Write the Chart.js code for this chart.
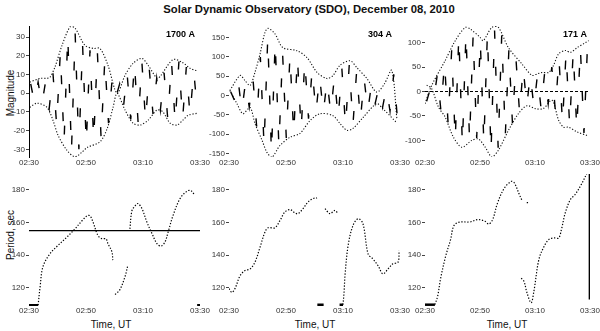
<!DOCTYPE html>
<html>
<head>
<meta charset="utf-8">
<script src="https://cdn.jsdelivr.net/npm/chart.js@4.4.0/dist/chart.umd.min.js"></script>
<style>
  body { margin: 0; background: #fff; width: 600px; height: 331px; position: relative; overflow: hidden;
         font-family: 'Liberation Sans', Arial, sans-serif; }
  canvas { position: absolute; }
  .txt { position: absolute; white-space: nowrap; color: #111; }
  .rot { transform: translate(-50%, -50%) rotate(-90deg); }
  .ctr { transform: translate(-50%, -50%); }
</style>
</head>
<body>
<div class="txt ctr" style="left:309px;top:9px;font-weight:bold;font-size:11.3px">Solar Dynamic Observatory (SDO), December 08, 2010</div>
<div class="txt rot" style="left:10px;top:93px;font-size:10px">Magnitude</div>
<div class="txt rot" style="left:10px;top:235px;font-size:10px">Period, sec</div>
<div class="txt ctr" style="left:111px;top:324px;font-size:10px">Time, UT</div>
<div class="txt ctr" style="left:315px;top:324px;font-size:10px">Time, UT</div>
<div class="txt ctr" style="left:507px;top:324px;font-size:10px">Time, UT</div>

<canvas id="m1"></canvas><canvas id="m2"></canvas><canvas id="m3"></canvas>
<canvas id="p1"></canvas><canvas id="p2"></canvas><canvas id="p3"></canvas>

<script>
// --- time axis (minutes after 02:30 UT) ------------------------
const timeTicks = [0, 20, 40, 60];
const timeLabels = ['02:30', '02:50', '03:10', '03:30'];

// --- top row: oscillation magnitude ----------------------------
const magTicks1 = [-30, -20, -10, 0, 10, 20, 30];
const magTicks2 = [-150, -100, -50, 0, 50, 100, 150];
const magTicks3 = [-100, -50, 0, 50, 100];

// signal extrema (shared times)
const sigT = [0.6,1.9,3.2,4.5,5.8,7.1,8.4,9.7,11,12.3,13.6,14.9,16.2,17.5,18.8,20.1,21.4,22.7,24,25.3,26.6,27.9,29.2,30.5,31.8,33.1,34.4,35.7,37,38.3,39.6,40.9,42.2,43.5,44.8,46.1,47.4,48.7,50,51.3,52.6,53.9,55.2,56.5,57.8,59.1];
const sig1 = [5,-5,6,-6,6,-8,11,-17,22,-26,31,-31,32,-30,26,-27,23,-25,22,-24,18,-16,8,-2,5,-8,11,-14,16,-16,17,-15,13,-11,8,-9,11,-14,17,-16,17,-14,14,-12,12,-10];
const sig2 = [10,-12,40,-40,35,-30,45,-80,100,-130,150,-150,140,-130,110,-110,105,-100,100,-90,90,-60,70,-45,50,-45,40,-45,50,-60,70,-80,80,-75,65,-65,45,-40,30,-20,22,-30,20,-40,55,-60];
const sig3 = [-20,5,-15,35,-40,60,-65,85,-100,115,-110,120,-100,115,-95,105,-105,120,-125,125,-115,115,-90,85,-65,65,-45,50,-30,35,-32,35,-35,38,-25,50,-40,70,-65,80,-70,82,-78,90,-85,95];

// envelopes
const env1UT = [0.3,4,6.3,7.4,9.1,11.6,14.4,16.1,19.6,22.5,24.9,27.7,30.9,33.7,36.5,39.6,41.8,44.9,46,50.5,53.7,56.5,59];
const env1U  = [6,8,8,8.6,14,25.7,35.5,35,25.7,24,24,15,0,9.6,16,18.7,15,8,9,18,16.6,13.4,12];
const env1LT = [0.3,2.8,6.3,8.4,10.2,13.3,16.1,18.6,20.4,24.9,27.4,29.5,30.9,33.7,36.5,39,41.8,44.9,47,49.5,51.9,54,55.8,59];
const env1L  = [-7.5,-5.3,-7.5,-14.4,-22.5,-30.5,-34,-31.5,-29,-26,-19,-7.5,0,-9,-16,-17,-14.4,-9,-10,-16,-17,-14.4,-11.8,-10.7];

const env2UT = [0.3,3.9,5.6,7.4,9.1,10.9,12.6,13.7,16.1,18.9,23.9,27.4,30.9,34.4,36.5,38.9,42.5,44.9,48.4,51.8,54.5,57.1,58.9];
const env2U  = [13,52,39,26,60,108,163,174,160,124,116,98,60,44,52,78,90,72,44,9,30,65,-60];
const env2LT = [0.3,2.8,4.9,7.4,9.1,11.6,13.3,15,17.9,21.4,24.9,28.4,31.9,36.5,38.9,41.4,43.5,47,51.8,54,58.8];
const env2L  = [13,-21,-47,-31,-72,-116,-147,-160,-129,-108,-98,-65,-47,-52,-72,-90,-85,-57,-21,-34,-70];

const env3UT = [0,2.4,7.3,11,14.6,16.4,20,21.2,24.3,26.7,30.3,35.3,38.9,40.8,42.6,45,46.7,48.6,51.1,52.9,55.4,58.4,59.5];
const env3U  = [-25,12,63,104,131,128,111,104,131,131,90,56,33,36,39,39,53,77,84,80,90,100,104];
const env3LT = [0.6,2.4,4.9,7.3,10.3,13.4,17,19.4,21.9,24.3,26.7,30.3,34,37.1,40.1,43,46.2,48.6,50.4,52.2,55.4,59];
const env3L  = [13,6,-32,-52,-93,-114,-100,-97,-114,-134,-120,-80,-45,-29,-35,-35,-18,-59,-73,-73,-83,-90];

// --- bottom row: period, sec -----------------------------------
const perTicks = [120, 140, 160, 180];
const refPeriod = 155;

const per1T = [3.2,3.9,4.9,7.4,10.2,13.3,16.1,18.6,20.4,21.4,22.5,24.2,25.6,27,27.7,29.1,29.4,29.8,30.2,31.9,33.7,34.7,35,35.4,36.1,37.2,38.2,39.6,41.4,43.2,44.9,46.3,47.7,48.8,50.5,53,55.4,56.8,58.2];
const per1  = [109.5,120.8,133,141,146,151,156,161,164,164,160,152,150,150,147,142,137,null,116,119,127,134,null,156,167,170,171.5,168.5,160,153,147,145.5,148,154,164,174.5,179,179.4,176.4];
const floor1T = [0,3.2,3.3,59,60];
const floor1  = [109.5,109.5,null,109.5,109.5];

const per2T = [0,1,2.1,3.9,5.6,7.4,9.1,10.9,12.6,13.7,16.1,17.9,19.6,21.4,23.2,24.2,26,27.7,29.5,30.9,32,33.7,35.4,37.2,38.2,39,40,40.4,40.7,41.8,43.5,45.3,47,48.8,50.5,52.3,54,55.8,57.5,59.3,59.7];
const per2  = [119.6,117.3,119.6,127.5,130.6,131.6,135.7,144.9,154,156.7,156.7,161.2,166.3,167.8,165.7,165.3,168.4,172.4,174.5,174.9,null,168.4,165.3,167.3,165.3,null,109.8,118,127.5,145.9,158.1,162.2,159.2,140.8,137.7,133.6,128.6,131.6,134.7,135.7,142.8];
const floor2T = [31,33.2,33.3,38.8,40];
const floor2  = [109.8,109.8,null,109.8,109.8];

const per3T  = [3.6,4.6,5.7,7.5,9.3,10.4,12.1,16.4,19.3,21.8,23.2,24.6,26.4,28.9,31.4,32.5,34.3,35.4,36.2,37,38];
const per3   = [109.8,115,126,139.3,149.5,157.6,160,160.3,161.7,160.7,159,161.7,171.9,181,185,184,177,172.9,null,172,172];
const per3bT = [35,36,37.1,38.6,39.6,41.4,43.2,45,46.8,48.6,49.6,51,52.9,54.6,56.8,58.9];
const per3b  = [126,124,117,111,118,137.3,145,149.5,150.5,150.5,155.6,165.8,174,177,183,190];
const floor3T = [0,3.6];
const floor3  = [109.8,109.8];
const edge3T = [59.8,59.8];
const edge3  = [189.5,113];

// --- helpers ---------------------------------------------------
const pair = (ts, vs) => ts.map((t, i) => ({ x: t, y: vs[i] }));
const FONT = "'Liberation Sans', Arial, sans-serif";
const W = 30, PT = 6, PR = 16, H = 14;

const cornerLabel = {
  id: 'cornerLabel',
  afterDraw(chart, args, opts) {
    if (!opts.text) return;
    const { ctx, chartArea } = chart;
    ctx.save();
    ctx.font = 'bold 9px ' + FONT;
    ctx.fillStyle = '#000';
    ctx.textAlign = 'right';
    ctx.textBaseline = 'middle';
    ctx.fillText(opts.text, chartArea.right - opts.dx, chartArea.top + 9);
    ctx.restore();
  }
};

const envStyle = { borderColor: '#111', borderWidth: 1.1, borderDash: [1.2, 1.8], tension: 0.3 };
const sigStyle = { borderColor: '#000', borderWidth: 1.4, borderDash: [9, 28], tension: 0 };
const perStyle = { borderColor: '#000', borderWidth: 1.2, borderDash: [1.3, 1.7], tension: 0.35 };
const solid = { borderColor: '#000', borderWidth: 1.3, tension: 0 };

function panel(id, box, yMin, yMax, yTicks, datasets, opts = {}) {
  const cv = document.getElementById(id);
  const w = W + (box.r - box.l) + PR, h = PT + (box.b - box.t) + H;
  cv.width = w; cv.height = h;
  cv.style.left = (box.l - W) + 'px';
  cv.style.top = (box.t - PT) + 'px';
  new Chart(cv, {
    type: 'line',
    data: { datasets: datasets.map(d => Object.assign({ pointRadius: 0, fill: false, spanGaps: false }, d)) },
    plugins: [cornerLabel],
    options: {
      responsive: false,
      animation: false,
      layout: { padding: { top: PT, right: PR, left: 0, bottom: 0 } },
      plugins: { legend: { display: false }, tooltip: { enabled: false },
                 cornerLabel: { text: opts.label || '', dx: opts.dx || 5 } },
      scales: {
        x: {
          type: 'linear', min: 0, max: 60,
          afterBuildTicks: s => { s.ticks = timeTicks.map(v => ({ value: v })); },
          afterFit: s => { s.height = H; },
          ticks: { font: { size: 8, family: FONT }, color: '#333', padding: opts.xPad ?? 1, maxRotation: 0,
                   callback: v => timeLabels[timeTicks.indexOf(v)] },
          grid: { drawOnChartArea: false, drawTicks: false },
          border: { display: false }
        },
        y: {
          min: yMin, max: yMax,
          afterBuildTicks: s => { s.ticks = yTicks.map(v => ({ value: v })); },
          afterFit: s => { s.width = W; },
          ticks: { font: { size: 8, family: FONT }, color: '#333', padding: 1 },
          grid: { drawOnChartArea: false, drawTicks: true, tickLength: 3, color: '#444' },
          border: { display: !!opts.axisLine, color: '#000', width: 1 }
        }
      }
    }
  });
}

// --- top row ---------------------------------------------------
panel('m1', { l: 29, r: 200, t: 26, b: 157 }, -34.1, 36, magTicks1, [
  Object.assign({ data: pair(sigT, sig1) }, sigStyle),
  Object.assign({ data: pair(env1UT, env1U) }, envStyle),
  Object.assign({ data: pair(env1LT, env1L) }, envStyle)
], { label: '1700 A', dx: 5, axisLine: true });

panel('m2', { l: 229, r: 400, t: 26, b: 157 }, -159, 180, magTicks2, [
  Object.assign({ data: pair(sigT, sig2) }, sigStyle),
  Object.assign({ data: pair(env2UT, env2U) }, envStyle),
  Object.assign({ data: pair(env2LT, env2L) }, envStyle)
], { label: '304 A', dx: 8 });

panel('m3', { l: 425, r: 590, t: 26, b: 157 }, -134, 134, magTicks3, [
  Object.assign({ data: pair(sigT, sig3) }, sigStyle),
  Object.assign({ data: pair(env3UT, env3U) }, envStyle),
  Object.assign({ data: pair(env3LT, env3L) }, envStyle),
  { data: pair([0, 60], [0, 0]), borderColor: '#000', borderWidth: 1, borderDash: [3, 2] }
], { label: '171 A', dx: 3 });

// --- bottom row ------------------------------------------------
panel('p1', { l: 29, r: 200, t: 174, b: 306 }, 109, 189.5, perTicks, [
  Object.assign({ data: pair(per1T, per1) }, perStyle),
  Object.assign({ data: pair(floor1T, floor1) }, solid, { borderWidth: 2.5 }),
  Object.assign({ data: pair([0, 60], [refPeriod, refPeriod]) }, solid)
], { xPad: 0 });

panel('p2', { l: 229, r: 400, t: 174, b: 306 }, 109, 189.5, perTicks, [
  Object.assign({ data: pair(per2T, per2) }, perStyle),
  Object.assign({ data: pair(floor2T, floor2) }, solid, { borderWidth: 2.5 })
], { xPad: 0 });

panel('p3', { l: 425, r: 590, t: 174, b: 306 }, 109, 189.5, perTicks, [
  Object.assign({ data: pair(per3T, per3) }, perStyle),
  Object.assign({ data: pair(per3bT, per3b) }, perStyle),
  Object.assign({ data: pair(floor3T, floor3) }, solid, { borderWidth: 2.5 }),
  Object.assign({ data: pair(edge3T, edge3) }, solid, { borderWidth: 1.6 })
], { xPad: 0 });
</script>
</body>
</html>
